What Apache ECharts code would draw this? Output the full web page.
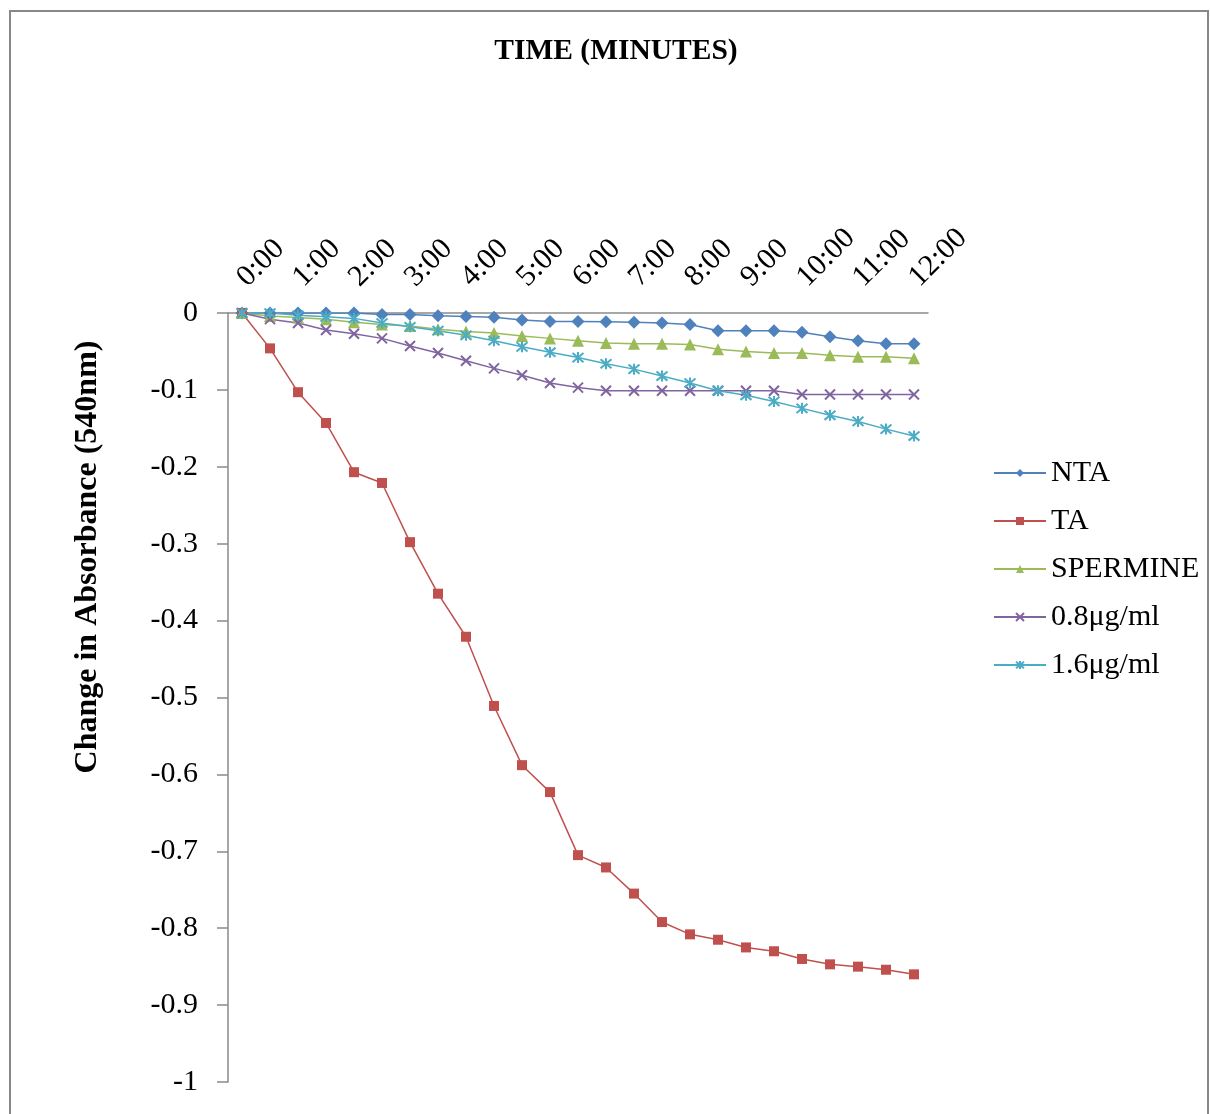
<!DOCTYPE html>
<html>
<head>
<meta charset="utf-8">
<title>Change in Absorbance over Time</title>
<script src="https://cdn.jsdelivr.net/npm/echarts@6/dist/echarts.min.js"></script>
<style>
  html, body { margin: 0; padding: 0; background: #fff; }
  #chart { width: 1210px; height: 1114px; }
</style>
</head>
<body>
<div id="chart"></div>
<script>
// Sampling times (every 30 s)
const times = ['0:00', '0:30', '1:00', '1:30', '2:00', '2:30', '3:00', '3:30', '4:00', '4:30',
  '5:00', '5:30', '6:00', '6:30', '7:00', '7:30', '8:00', '8:30', '9:00', '9:30',
  '10:00', '10:30', '11:00', '11:30', '12:00'];

// Change in absorbance at 540 nm for each sample
const nta = [0, 0, 0, 0, 0, -0.002, -0.002, -0.0035, -0.0045, -0.0055,
  -0.009, -0.011, -0.011, -0.0115, -0.012, -0.013, -0.015, -0.023, -0.023, -0.023,
  -0.025, -0.031, -0.036, -0.040, -0.040];
const ta = [0, -0.046, -0.103, -0.143, -0.207, -0.221, -0.298, -0.365, -0.421, -0.511,
  -0.588, -0.623, -0.705, -0.721, -0.755, -0.792, -0.808, -0.815, -0.825, -0.830,
  -0.840, -0.847, -0.850, -0.854, -0.860];
const spermine = [0, -0.004, -0.006, -0.008, -0.012, -0.015, -0.017, -0.021, -0.024, -0.026,
  -0.030, -0.033, -0.036, -0.039, -0.040, -0.040, -0.041, -0.047, -0.050, -0.052,
  -0.052, -0.055, -0.057, -0.057, -0.059];
const dose08 = [0, -0.008, -0.013, -0.022, -0.027, -0.033, -0.043, -0.052, -0.062, -0.072,
  -0.081, -0.091, -0.097, -0.101, -0.101, -0.101, -0.101, -0.101, -0.101, -0.101,
  -0.106, -0.106, -0.106, -0.106, -0.106];
const dose16 = [0, 0, -0.003, -0.005, -0.007, -0.013, -0.018, -0.023, -0.029, -0.036,
  -0.044, -0.051, -0.058, -0.066, -0.073, -0.082, -0.091, -0.101, -0.107, -0.115,
  -0.124, -0.133, -0.141, -0.151, -0.160];

const seriesNames = ['NTA', 'TA', 'SPERMINE', '0.8μg/ml', '1.6μg/ml'];
const seriesData = [nta, ta, spermine, dose08, dose16];
const colors = ['#4F81BD', '#C0504D', '#9BBB59', '#8064A2', '#4BACC6'];

const serif = '"Liberation Serif", "Times New Roman", serif';
const axisGray = '#8a8a8a';

// Marker shapes: diamond, square, triangle, cross, asterisk
const crossPath = 'path://M0,0L10,10M10,0L0,10';
const starPath = 'path://M0,0L10,10M10,0L0,10M5,-1L5,11';
const symbols = ['diamond', 'rect', 'triangle', crossPath, starPath];
const symbolSizes = [13, 10, 12, 10, 11];

const series = seriesNames.map((name, i) => {
  const stroked = i >= 3;
  return {
    name: name,
    type: 'line',
    data: seriesData[i],
    symbol: symbols[i],
    symbolSize: symbolSizes[i],
    showAllSymbol: true,
    lineStyle: { color: colors[i], width: 1.5 },
    itemStyle: stroked
      ? { color: colors[i], borderColor: colors[i], borderWidth: 2 }
      : { color: colors[i], borderWidth: 0 },
    emphasis: { disabled: true }
  };
});

const chart = echarts.init(document.getElementById('chart'), null, { renderer: 'canvas' });
chart.setOption({
  animation: false,
  backgroundColor: '#ffffff',
  color: colors,
  title: {
    text: 'TIME (MINUTES)',
    left: 611,
    top: 31,
    textAlign: 'center',
    textStyle: { fontFamily: serif, fontWeight: 'bold', fontSize: 29.5, color: '#000' }
  },
  legend: {
    orient: 'vertical',
    left: 988,
    top: 453,
    itemWidth: 52,
    itemHeight: 10,
    itemGap: 18,
    data: seriesNames,
    textStyle: { fontFamily: serif, fontSize: 30, color: '#000' }
  },
  grid: { left: 228, right: 282, top: 313, bottom: 32, containLabel: false },
  xAxis: {
    type: 'category',
    position: 'top',
    data: times,
    boundaryGap: true,
    axisLine: { onZero: false, lineStyle: { color: axisGray, width: 1.5 } },
    axisTick: { interval: 0, inside: true, length: 10, lineStyle: { color: axisGray, width: 1.5 } },
    axisLabel: { interval: 1, rotate: -45, margin: 31, fontFamily: serif, fontSize: 30, color: '#000' },
    splitLine: { show: false }
  },
  yAxis: {
    type: 'value',
    min: -1,
    max: 0,
    interval: 0.1,
    axisLine: { show: true, lineStyle: { color: axisGray, width: 1.5 } },
    axisTick: { show: true, length: 11, lineStyle: { color: axisGray, width: 1.5 } },
    axisLabel: { margin: 30, fontFamily: serif, fontSize: 30, color: '#000' },
    splitLine: { show: false }
  },
  graphic: [
    {
      type: 'rect',
      shape: { x: 10, y: 11, width: 1198, height: 1200 },
      style: { fill: 'none', stroke: '#888888', lineWidth: 2 },
      silent: true
    },
    {
      type: 'text',
      x: 88,
      y: 557,
      rotation: Math.PI / 2,
      style: {
        text: 'Change in Absorbance (540nm)',
        font: 'bold 32px ' + serif,
        fill: '#000',
        align: 'center',
        verticalAlign: 'middle'
      },
      silent: true
    }
  ],
  series: series
});
</script>
</body>
</html>
